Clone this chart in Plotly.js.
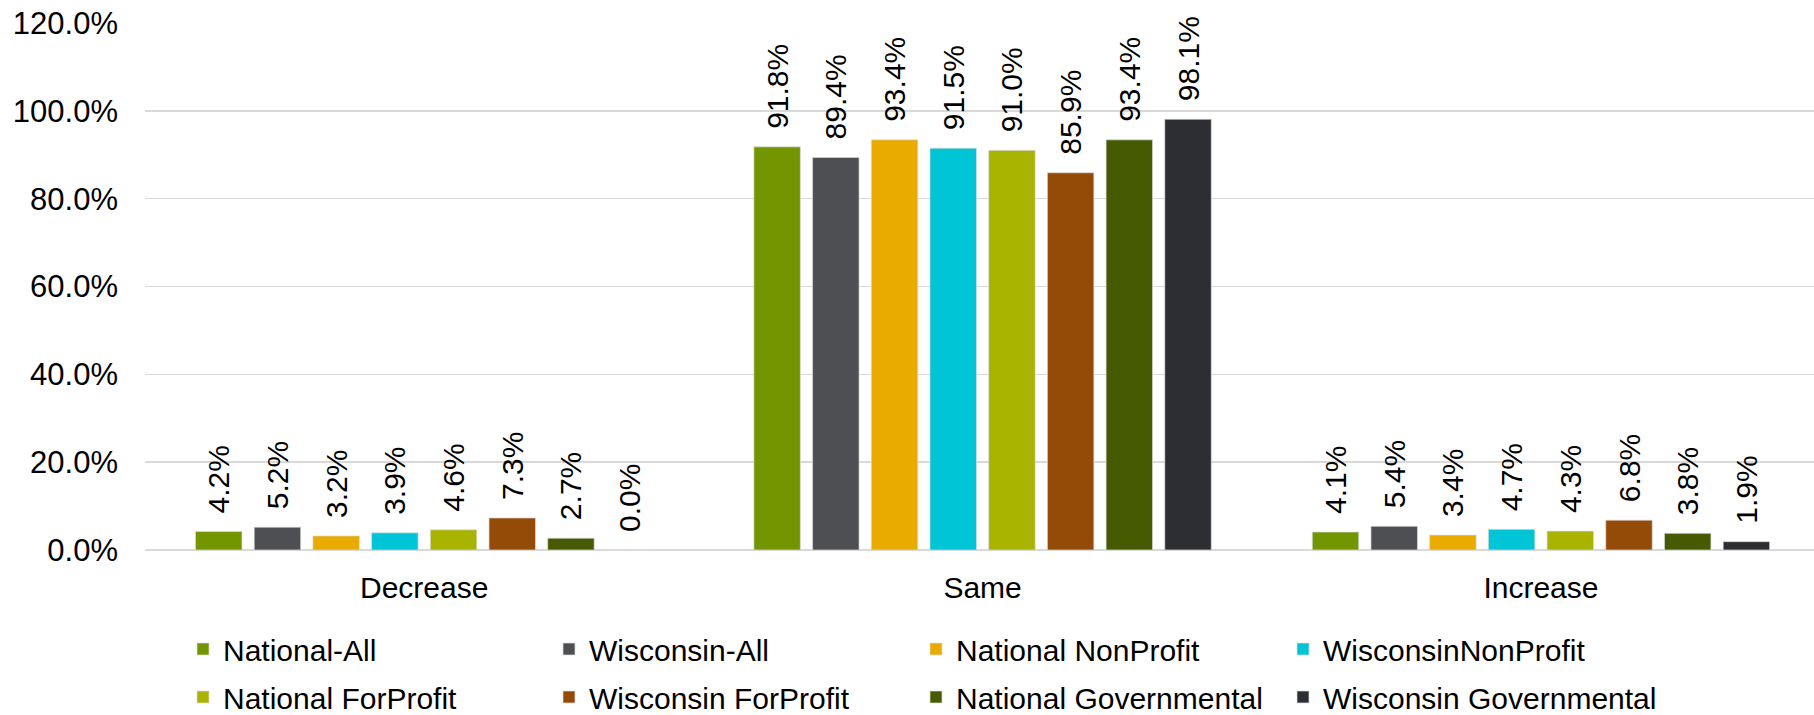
<!DOCTYPE html>
<html>
<head>
<meta charset="utf-8">
<script src="https://cdn.plot.ly/plotly-3.0.1.min.js"></script>
<style>
  html, body { margin: 0; padding: 0; background: #ffffff; }
  #chart { width: 1814px; height: 715px; }
</style>
</head>
<body>
<div id="chart"></div>
<script>
const categories = ['Decrease', 'Same', 'Increase'];

const seriesNames = [
  'National-All', 'Wisconsin-All', 'National NonProfit', 'WisconsinNonProfit',
  'National ForProfit', 'Wisconsin ForProfit', 'National Governmental', 'Wisconsin Governmental'
];

const nationalAll          = [4.2, 91.8, 4.1];
const wisconsinAll         = [5.2, 89.4, 5.4];
const nationalNonProfit    = [3.2, 93.4, 3.4];
const wisconsinNonProfit   = [3.9, 91.5, 4.7];
const nationalForProfit    = [4.6, 91.0, 4.3];
const wisconsinForProfit   = [7.3, 85.9, 6.8];
const nationalGovernmental = [2.7, 93.4, 3.8];
const wisconsinGovernmental= [0.0, 98.1, 1.9];

const seriesValues = [
  nationalAll, wisconsinAll, nationalNonProfit, wisconsinNonProfit,
  nationalForProfit, wisconsinForProfit, nationalGovernmental, wisconsinGovernmental
];

const seriesColors = [
  '#739600', '#4D4F53', '#EAAB00', '#00C5D7',
  '#A8B400', '#954B08', '#465A01', '#2D2E33'
];

const yTickValues = [0, 20, 40, 60, 80, 100, 120];

const FONT = '"Liberation Sans", Arial, sans-serif';

// legend grid: 4 columns x 2 rows (left edge of each entry, row centre), in page pixels
const legendColumnX = [183, 549, 916, 1283];
const legendRowY = [649, 697];

const legendIds = seriesNames.map((_, i) => (i === 0 ? 'legend' : 'legend' + (i + 1)));

const traces = seriesNames.map((name, i) => ({
  type: 'bar',
  name: name,
  x: categories,
  y: seriesValues[i],
  marker: { color: seriesColors[i], line: { color: 'rgba(220,220,220,0.7)', width: 1 } },
  texttemplate: '\u2002%{y:.1f}%',
  textposition: 'outside',
  textangle: -90,
  constraintext: 'none',
  cliponaxis: false,
  textfont: { family: FONT, size: 30, color: '#000000' },
  hoverinfo: 'skip',
  legend: legendIds[i]
}));

const layout = {
  width: 1814,
  height: 715,
  paper_bgcolor: '#ffffff',
  plot_bgcolor: '#ffffff',
  margin: { l: 145, r: 0, t: 23, b: 165, pad: 0, autoexpand: false },
  barmode: 'group',
  bargap: 0.159,
  bargroupgap: 0.208,
  font: { family: FONT, color: '#000000' },
  xaxis: {
    type: 'category',
    range: [-0.5, 2.489],
    showgrid: false,
    showline: false,
    ticks: '',
    tickfont: { family: FONT, size: 30, color: '#000000' },
    ticklabelstandoff: 17,
    automargin: false,
    fixedrange: true
  },
  yaxis: {
    range: [0, 120],
    tickvals: yTickValues,
    ticktext: yTickValues.map(v => v.toFixed(1) + '%'),
    showgrid: true,
    gridcolor: '#D9D9D9',
    gridwidth: 1.6,
    zeroline: true,
    zerolinecolor: '#D9D9D9',
    zerolinewidth: 1.6,
    showline: false,
    ticks: '',
    tickfont: { family: FONT, size: 31, color: '#000000' },
    ticklabelstandoff: 26,
    automargin: false,
    fixedrange: true
  },
  showlegend: true
};

legendIds.forEach((id, i) => {
  layout[id] = {
    orientation: 'h',
    xref: 'container', yref: 'container',
    x: legendColumnX[i % 4] / 1814, xanchor: 'left',
    y: 1 - legendRowY[Math.floor(i / 4)] / 715, yanchor: 'middle',
    font: { family: FONT, size: 30, color: '#000000' },
    bgcolor: 'rgba(0,0,0,0)',
    borderwidth: 0
  };
});

Plotly.newPlot('chart', traces, layout, { displayModeBar: false, staticPlot: true });
</script>
</body>
</html>
